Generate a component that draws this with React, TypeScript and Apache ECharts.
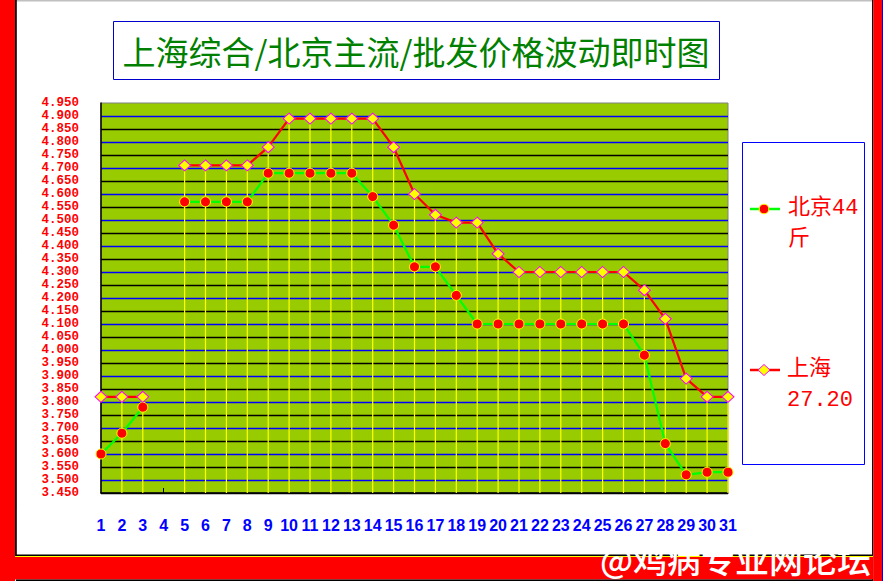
import { useRef, useEffect } from 'react'
import * as echarts from 'echarts'

// day of month 1..31, day 4 has no quote
const days: string[] = Array.from({ length: 31 }, (_, i) => String(i + 1))

const beijing: (number | null)[] = [
  3.60, 3.68, 3.78, null, 4.57, 4.57, 4.57, 4.57, 4.68, 4.68,
  4.68, 4.68, 4.68, 4.59, 4.48, 4.32, 4.32, 4.21, 4.10, 4.10,
  4.10, 4.10, 4.10, 4.10, 4.10, 4.10, 3.98, 3.64, 3.52, 3.53,
  3.53,
]

const shanghai: (number | null)[] = [
  3.82, 3.82, 3.82, null, 4.71, 4.71, 4.71, 4.71, 4.78, 4.89,
  4.89, 4.89, 4.89, 4.89, 4.78, 4.60, 4.52, 4.49, 4.49, 4.37,
  4.30, 4.30, 4.30, 4.30, 4.30, 4.30, 4.23, 4.12, 3.89, 3.82,
  3.82,
]

const TITLE = '上海综合/北京主流/批发价格波动即时图'
const LEGEND_BJ = '北京44\n斤'
const LEGEND_SH = '上海\n27.20'
const WATERMARK = '@鸡病专业网论坛'

const Y_MIN = 3.45
const Y_MAX = 4.95
const Y_STEP = 0.05

const MONO = '"Liberation Mono", "Noto Sans CJK SC", monospace'
const CJK = '"Noto Sans CJK SC", sans-serif'

export default function App() {
  const chartRef = useRef<HTMLDivElement>(null)

  useEffect(() => {
    if (!chartRef.current) return
    const chart = echarts.init(chartRef.current, undefined, { renderer: 'svg' })

    // drop lines from the Shanghai point to the floor (first one sits on the axis)
    const drops: [number, number][] = []
    shanghai.forEach((v, i) => {
      if (v != null && i > 0) drops.push([i, v])
    })

    const option: echarts.EChartsOption = {
      animation: false,
      backgroundColor: '#ffffff',
      grid: {
        left: 101,
        top: 103,
        width: 627,
        height: 390,
        show: true,
        backgroundColor: '#99cc00',
        borderColor: '#808080',
        borderWidth: 1,
      },
      xAxis: {
        type: 'category',
        data: days,
        boundaryGap: false,
        axisLine: { onZero: false, lineStyle: { color: '#000', width: 1.5 } },
        axisTick: {
          show: true,
          inside: true,
          length: 5,
          interval: (i: number) => i === 3,
          lineStyle: { color: '#000' },
        },
        axisLabel: {
          interval: 0,
          margin: 24,
          color: '#0000ff',
          fontSize: 16,
          fontWeight: 'bold',
          fontFamily: '"Liberation Sans", Arial, sans-serif',
        },
        splitLine: { show: false },
      },
      yAxis: {
        type: 'value',
        min: Y_MIN,
        max: Y_MAX,
        interval: Y_STEP,
        axisLine: { show: true, lineStyle: { color: '#000', width: 1.5 } },
        axisTick: { show: false },
        axisLabel: {
          margin: 22,
          color: '#ff0000',
          fontSize: 12.5,
          fontWeight: 'bold',
          fontFamily: MONO,
          showMinLabel: true,
          showMaxLabel: true,
          formatter: (v: number) => v.toFixed(3),
        },
        splitLine: {
          show: true,
          showMaxLine: false,
          lineStyle: { color: ['#000000', '#0000ff'], width: 1.3 },
        },
      } as echarts.YAXisComponentOption,
      series: [
        {
          type: 'custom',
          name: 'drop',
          data: drops,
          encode: { x: 0, y: 1 },
          z: 1,
          silent: true,
          renderItem: (_params: unknown, api: any) => {
            const top = api.coord([api.value(0), api.value(1)])
            const floor = api.coord([api.value(0), Y_MIN])
            return {
              type: 'line',
              shape: { x1: top[0], y1: top[1], x2: floor[0], y2: floor[1] },
              style: { stroke: '#ffff00', lineWidth: 1.2 },
            }
          },
        } as echarts.SeriesOption,
        {
          name: '北京44斤',
          type: 'line',
          data: beijing,
          z: 3,
          connectNulls: false,
          lineStyle: { color: '#00ff00', width: 2.2 },
          symbol: 'circle',
          symbolSize: 10,
          itemStyle: { color: '#ff0000', borderColor: '#ffff00', borderWidth: 1 },
        } as echarts.SeriesOption,
        {
          name: '上海27.20',
          type: 'line',
          data: shanghai,
          z: 4,
          connectNulls: false,
          lineStyle: { color: '#ff0000', width: 2.2 },
          symbol: 'diamond',
          symbolSize: [12, 11],
          itemStyle: { color: '#ffff00', borderColor: '#ff00ff', borderWidth: 1 },
        } as echarts.SeriesOption,
      ],
      graphic: [
        // page frame
        { type: 'rect', shape: { x: 0, y: 0, width: 883, height: 1.5 }, style: { fill: '#c0c0c0' }, silent: true },
        { type: 'rect', shape: { x: 0, y: 0, width: 15, height: 581 }, style: { fill: '#ff0000' }, silent: true },
        { type: 'rect', shape: { x: 15, y: 0, width: 1.8, height: 555 }, style: { fill: '#000' }, silent: true },
        { type: 'rect', shape: { x: 872, y: 0, width: 1.2, height: 581 }, style: { fill: '#000' }, silent: true },
        { type: 'rect', shape: { x: 873.2, y: 0, width: 8.8, height: 581 }, style: { fill: '#ff0000' }, silent: true },
        { type: 'rect', shape: { x: 882, y: 0, width: 1, height: 581 }, style: { fill: '#0000ff' }, silent: true },
        { type: 'rect', shape: { x: 15, y: 554.5, width: 858, height: 1.5 }, style: { fill: '#000' }, silent: true },
        { type: 'rect', shape: { x: 15, y: 556, width: 858, height: 1 }, style: { fill: '#ffff00' }, silent: true },
        { type: 'rect', shape: { x: 0, y: 557, width: 873.2, height: 22.5 }, style: { fill: '#ff0000' }, silent: true },
        { type: 'rect', shape: { x: 16, y: 579.5, width: 857, height: 1.5 }, style: { fill: '#000' }, silent: true },
        {
          type: 'text',
          x: 600,
          y: 541,
          silent: true,
          style: {
            text: WATERMARK,
            fill: '#ffffff',
            font: `500 34px ${CJK}`,
            textVerticalAlign: 'top',
          },
        },
        // title box
        {
          type: 'rect',
          shape: { x: 113.5, y: 21.5, width: 606, height: 58 },
          style: { fill: '#ffffff', stroke: '#0000cc', lineWidth: 1 },
          silent: true,
        },
        {
          type: 'text',
          x: 416,
          y: 51,
          silent: true,
          style: {
            text: TITLE,
            fill: '#008000',
            font: `33px ${CJK}`,
            textAlign: 'center',
            textVerticalAlign: 'middle',
            textShadowColor: '#c8c800',
            textShadowOffsetX: -1,
            textShadowOffsetY: 1,
            textShadowBlur: 0,
          },
        },
        // legend box
        {
          type: 'rect',
          shape: { x: 742.5, y: 142.5, width: 122, height: 322 },
          style: { fill: '#ffffff', stroke: '#0000ff', lineWidth: 1 },
          silent: true,
        },
        { type: 'line', shape: { x1: 750, y1: 209, x2: 780, y2: 209 }, style: { stroke: '#00ff00', lineWidth: 2.5 }, silent: true },
        { type: 'circle', shape: { cx: 764, cy: 209, r: 4.8 }, style: { fill: '#ff0000', stroke: '#ffff00', lineWidth: 1 }, silent: true },
        {
          type: 'text',
          x: 788,
          y: 193,
          silent: true,
          style: { text: LEGEND_BJ, fill: '#ff0000', font: `22px ${MONO}`, lineHeight: 31 },
        },
        { type: 'line', shape: { x1: 750, y1: 370, x2: 780, y2: 370 }, style: { stroke: '#ff0000', lineWidth: 2.5 }, silent: true },
        {
          type: 'polygon',
          shape: { points: [[764, 364.5], [770, 370], [764, 375.5], [758, 370]] },
          style: { fill: '#ffff00', stroke: '#ff00ff', lineWidth: 1 },
          silent: true,
        },
        {
          type: 'text',
          x: 787,
          y: 354,
          silent: true,
          style: { text: LEGEND_SH, fill: '#ff0000', font: `22px ${MONO}`, lineHeight: 31 },
        },
      ],
    }

    chart.setOption(option)
    return () => {
      chart.dispose()
    }
  }, [])

  return (
    <div
      ref={chartRef}
      style={{ position: 'absolute', left: 0, top: 0, width: 883, height: 581, background: '#fff' }}
    />
  )
}
